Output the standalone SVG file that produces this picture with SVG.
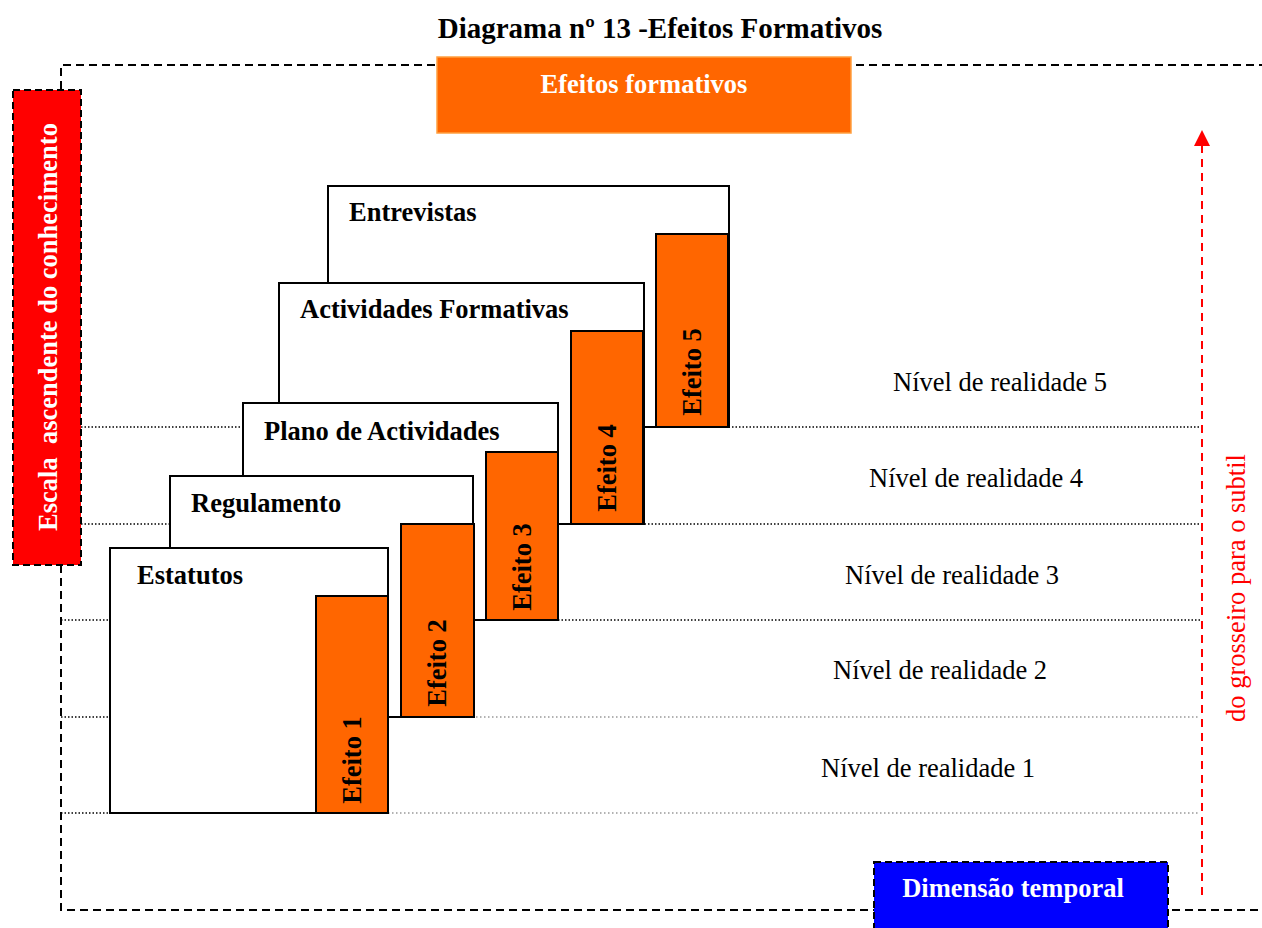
<svg xmlns="http://www.w3.org/2000/svg" width="1262" height="928" viewBox="0 0 1262 928">
<style>
.frame{fill:none;stroke:#000;stroke-width:2;stroke-dasharray:8 5}
.dot{stroke:#000;stroke-width:1.5;stroke-dasharray:1.5 2}
.dotg{stroke:#999;stroke-width:1.5;stroke-dasharray:1.5 2.5}
.box{fill:#fff;stroke:#000;stroke-width:2}
.eff{fill:#FF6600;stroke:#000;stroke-width:2}
.bl{font-family:"Liberation Serif",serif;font-weight:bold;font-size:26.5px;fill:#000}
.lv{font-family:"Liberation Serif",serif;font-size:26.5px;fill:#000}
.wt{font-family:"Liberation Serif",serif;font-weight:bold;font-size:26.5px;fill:#fff}
</style>
<defs>
<marker id="ah" markerWidth="16" markerHeight="16" refX="14" refY="8" orient="auto" markerUnits="userSpaceOnUse" viewBox="0 0 16 16">
<path d="M0,0 L16,8 L0,16 Z" fill="#f00"/>
</marker>
</defs>
<rect width="1262" height="928" fill="#fff"/>
<text x="660" y="38" text-anchor="middle" font-family="Liberation Serif,serif" font-weight="bold" font-size="29" fill="#000">Diagrama nº 13 -Efeitos Formativos</text>

<g id="frame">
<path class="frame" d="M61,89 V65 H1262 M61,565 V910 H1262"/>
</g>

<g id="levels">
<line class="dot" x1="81" y1="427" x2="1200" y2="427"/>
<line class="dot" x1="81" y1="524" x2="1200" y2="524"/>
<line class="dot" x1="61" y1="620" x2="1200" y2="620"/>
<line class="dot" x1="61" y1="717" x2="400" y2="717"/>
<line class="dotg" x1="400" y1="717" x2="1200" y2="717"/>
<line class="dot" x1="61" y1="813" x2="320" y2="813"/>
<line class="dotg" x1="388" y1="813" x2="1200" y2="813"/>
</g>

<g id="n-entrevistas">
<rect class="box" x="328" y="186" width="401" height="241"/>
<text class="bl" x="349" y="221">Entrevistas</text>
</g>
<g id="n-efeito5">
<rect class="eff" x="656" y="234" width="72" height="193"/>
<text class="bl" transform="translate(701,372) rotate(-90)" text-anchor="middle">Efeito 5</text>
</g>
<g id="n-actividades">
<rect class="box" x="279" y="283" width="365" height="241"/>
<text class="bl" x="300" y="318">Actividades Formativas</text>
</g>
<g id="n-efeito4">
<rect class="eff" x="571" y="331" width="72" height="193"/>
<text class="bl" transform="translate(616,468) rotate(-90)" text-anchor="middle">Efeito 4</text>
</g>
<g id="n-plano">
<rect class="box" x="243" y="403" width="315" height="217"/>
<text class="bl" x="264" y="440">Plano de Actividades</text>
</g>
<g id="n-efeito3">
<rect class="eff" x="486" y="452" width="72" height="168"/>
<text class="bl" transform="translate(531,567) rotate(-90)" text-anchor="middle">Efeito 3</text>
</g>
<g id="n-regulamento">
<rect class="box" x="170" y="476" width="303" height="241"/>
<text class="bl" x="191" y="512">Regulamento</text>
</g>
<g id="n-efeito2">
<rect class="eff" x="401" y="524" width="73" height="193"/>
<text class="bl" transform="translate(446,663) rotate(-90)" text-anchor="middle">Efeito 2</text>
</g>
<g id="n-estatutos">
<rect class="box" x="110" y="548" width="278" height="265"/>
<text class="bl" x="137" y="584">Estatutos</text>
</g>
<g id="n-efeito1">
<rect class="eff" x="316" y="596" width="72" height="217"/>
<text class="bl" transform="translate(361,760) rotate(-90)" text-anchor="middle">Efeito 1</text>
</g>

<g id="level-labels">
<text class="lv" x="893" y="391">Nível de realidade 5</text>
<text class="lv" x="869" y="487">Nível de realidade 4</text>
<text class="lv" x="845" y="584">Nível de realidade 3</text>
<text class="lv" x="833" y="679">Nível de realidade 2</text>
<text class="lv" x="821" y="777">Nível de realidade 1</text>
</g>

<g id="n-escala">
<rect x="13" y="90" width="68" height="475" fill="#f00" stroke="#000" stroke-width="2" stroke-dasharray="7 4"/>
<text class="wt" transform="translate(57,327) rotate(-90)" text-anchor="middle" xml:space="preserve">Escala  ascendente do conhecimento</text>
</g>

<g id="n-efeitos-formativos">
<rect x="437" y="57" width="414" height="76" fill="#FF6600" stroke="#FFA040" stroke-width="1.5"/>
<text class="wt" x="644" y="93" text-anchor="middle">Efeitos formativos</text>
</g>

<g id="n-dimensao">
<rect x="874" y="862" width="294" height="70" fill="#00f" stroke="#000" stroke-width="2" stroke-dasharray="7 4"/>
<text class="wt" x="1013" y="897" text-anchor="middle">Dimensão temporal</text>
</g>

<g id="connectors">
<line x1="1202" y1="895" x2="1202" y2="132" stroke="#f00" stroke-width="2" stroke-dasharray="8 6" marker-end="url(#ah)"/>
</g>
<text transform="translate(1245,588) rotate(-90)" text-anchor="middle" font-family="Liberation Serif,serif" font-size="26.5" fill="#f00">do grosseiro para o subtil</text>
</svg>
